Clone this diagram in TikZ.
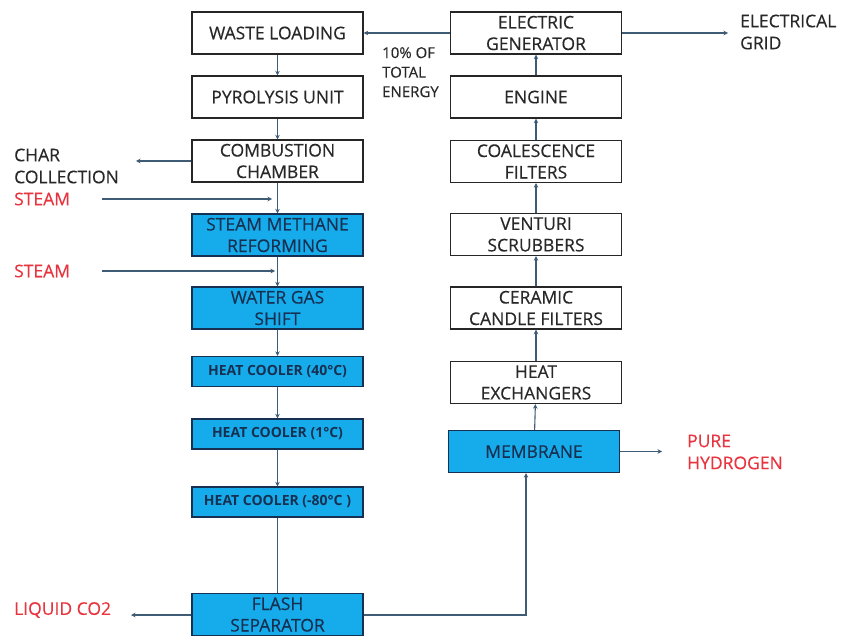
\documentclass[tikz,border=0pt]{standalone}
\usepackage{fontspec}
\setmainfont{Open Sans}[UprightFeatures={FakeBold=0.35}]
\usetikzlibrary{arrows.meta}
\definecolor{procblue}{RGB}{22,172,235}
\definecolor{procnavy}{RGB}{22,48,82}
\definecolor{boxtext}{RGB}{40,40,40}
\definecolor{flowline}{RGB}{62,92,118}
\definecolor{streamred}{RGB}{232,52,62}
\tikzset{
  wbox/.style={draw=black!85, line width=1.3pt, fill=white, minimum width=171pt,
    minimum height=42pt, inner sep=0pt, align=center, text=boxtext,
    font=\fontsize{17.5}{21.5}\selectfont},
  bbox/.style={wbox, fill=procblue, draw=procnavy, text=procnavy},
  cooler/.style={bbox, minimum height=30pt, font=\fontsize{14}{15}\selectfont\bfseries},
  conn/.style={draw=flowline, line width=1.1pt, -{Stealth[length=4.5pt,width=4.5pt]}},
  plain/.style={draw=flowline, line width=1.1pt},
  lbl/.style={inner sep=0pt, align=left, text=boxtext, font=\fontsize{17.5}{22}\selectfont},
  redlbl/.style={lbl, text=streamred}
}
\begin{document}
\begin{tikzpicture}[x=1pt,y=-1pt]
\useasboundingbox (0,0) rectangle (845,636);

% left train: feed, conversion and gas cooling
\node[wbox]   (wl)  at (277.5,33)  {WASTE LOADING};
\node[wbox]   (pu)  at (277.5,97)  {PYROLYSIS UNIT};
\node[wbox]   (cc)  at (277.5,161) {COMBUSTION\\CHAMBER};
\node[bbox]   (smr) at (277.5,235) {STEAM METHANE\\REFORMING};
\node[bbox]   (wgs) at (277.5,308) {WATER GAS\\SHIFT};
\node[cooler] (hc1) at (277.5,371.5) {HEAT COOLER (40°C)};
\node[cooler] (hc2) at (277.5,434)   {HEAT COOLER (1°C)};
\node[cooler] (hc3) at (277.5,502)   {HEAT COOLER (-80°C )};
\node[bbox]   (fs)  at (277.5,614.5) {FLASH\\SEPARATOR};

% right train: hydrogen separation, gas cleaning and power
\node[wbox] (eg)  at (536,33)    {ELECTRIC\\GENERATOR};
\node[wbox] (en)  at (536,97)    {ENGINE};
\node[wbox] (cf)  at (536,161.5) {COALESCENCE\\FILTERS};
\node[wbox] (vs)  at (536,234.5) {VENTURI\\SCRUBBERS};
\node[wbox] (ccf) at (536,308)   {CERAMIC\\CANDLE FILTERS};
\node[wbox] (he)  at (536,382.5) {HEAT\\EXCHANGERS};
\node[bbox] (mem) at (534,451.5) {MEMBRANE};

% side labels
\node[lbl, anchor=north west, font=\fontsize{15}{19.5}\selectfont] (share) at (382,47) {10\% OF\\TOTAL\\ENERGY};
\node[lbl, anchor=west] (char) at (14,166) {CHAR\\COLLECTION};
\node[redlbl, anchor=west] (st1) at (14,199) {STEAM};
\node[redlbl, anchor=west] (st2) at (14,271) {STEAM};
\node[redlbl, anchor=west] (co2) at (14,610) {LIQUID CO2};
\node[redlbl, anchor=west] (h2)  at (687,452) {PURE\\HYDROGEN};
\node[lbl, anchor=west] (grid) at (740,32) {ELECTRICAL\\GRID};

% free ends of the side streams
\coordinate (s1a) at (102,199);
\coordinate (s1b) at (272,199);
\coordinate (s2a) at (102,271);
\coordinate (s2b) at (275,271);
\coordinate (charend) at (136,161);
\coordinate (co2end) at (131,615);
\coordinate (h2end)  at (662,451.5);
\coordinate (gridend) at (728,33);

% main gas path
\draw[conn] (wl) -- (pu);
\draw[conn] (pu) -- (cc);
\draw[conn] (cc) -- (smr);
\draw[conn] (smr) -- (wgs);
\draw[conn] (wgs) -- (hc1);
\draw[conn] (hc1) -- (hc2);
\draw[conn] (hc2) -- (hc3);
\draw[plain] (hc3) -- (fs);
\draw[conn] (fs.east |- 0,615) -| ([xshift=-8pt]mem.south);
\draw[conn] (mem) -- (he);
\draw[conn] (he) -- (ccf);
\draw[conn] (ccf) -- (vs);
\draw[conn] (vs) -- (cf);
\draw[conn] (cf) -- (en);
\draw[conn] (en) -- (eg);

% side streams
\draw[conn] (s1a) -- (s1b);
\draw[conn] (s2a) -- (s2b);
\draw[conn] (cc.west) -- (charend);
\draw[conn] (fs.west |- 0,615) -- (co2end);
\draw[conn] (mem.east) -- (h2end);
\draw[conn] (eg.west) -- (wl.east);
\draw[conn] (eg.east) -- (gridend);
\end{tikzpicture}
\end{document}
